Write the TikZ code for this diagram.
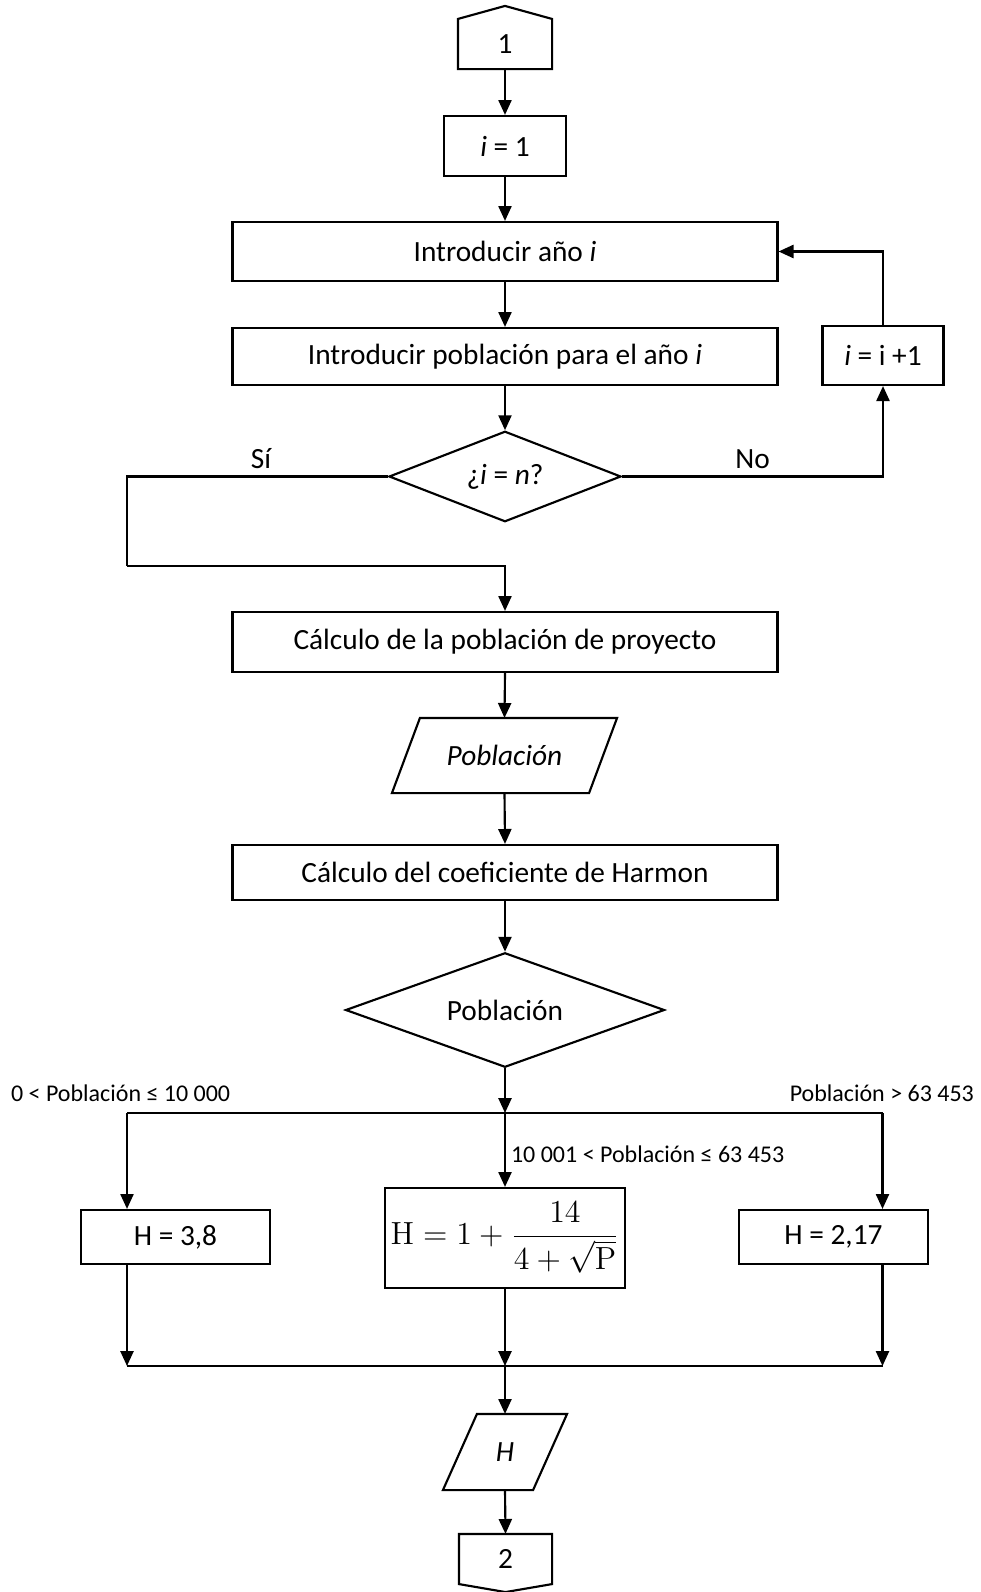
\documentclass[tikz,border=0pt]{standalone}
\usepackage[no-math]{fontspec}
\setmainfont{Carlito}
\usetikzlibrary{arrows.meta,shapes.geometric,calc}
\def\px{0.375pt}
\begin{document}
\begin{tikzpicture}[x=0.375pt,y=0.375pt,
  line width=0.8pt,
  every node/.style={font=\fontsize{11}{13}\selectfont, inner sep=0pt},
  proc/.style={draw, rectangle, minimum width=#1*\px},
  proc/.default=545,
  plain/.style={rectangle},
  dec/.style={draw, diamond},
  lbl/.style={font=\fontsize{9}{11}\selectfont},
  arr/.style={-{Triangle[length=5.6pt,width=4.9pt]}},
  ln/.style={-}
]
\useasboundingbox (0,0) rectangle (981,-1592);

% connector 1
\node[plain, minimum width=92*\px, minimum height=48*\px] (c1) at (505,-44) {1};
\draw (c1.south west) -- (c1.north west) -- ($(c1.north)+(0,13)$) -- (c1.north east) -- (c1.south east) -- cycle;

\node[proc=122, minimum height=60*\px] (i1) at (505,-146) {\textit{i} = 1};
\node[proc, minimum height=59*\px] (ano) at (505,-251.5) {Introducir año \textit{i}};
\node[proc, minimum height=57*\px] (pobi) at (505,-356.5) {Introducir población para el año \textit{i}};
\node[proc=121, minimum height=59*\px] (inc) at (883,-355.5) {\textit{i} = i +1};
\node[dec, aspect=2.56, minimum width=232*\px, minimum height=90.5*\px] (d1) at (505,-476.5) {¿\textit{i} = \textit{n}?};
\node[proc, minimum height=60*\px] (calc) at (505,-642) {Cálculo de la población de proyecto};

% parallelogram Poblacion
\node[plain, minimum width=195*\px, minimum height=73*\px] (pob) at (504.5,-755.5) {\textit{Población}};
\draw ($(pob.north west)+(14,0)$) -- ($(pob.north east)+(14,0)$) -- ($(pob.south east)+(-14,0)$) -- ($(pob.south west)+(-14,0)$) -- cycle;

\node[proc, minimum height=55*\px] (harm) at (505,-872.5) {Cálculo del coeficiente de Harmon};
\node[dec, aspect=2.79, minimum width=319*\px, minimum height=114.5*\px] (d2) at (505,-1010) {Población};

\node[proc=189, minimum height=54*\px] (h38) at (175.5,-1237) {H = 3,8};
\node[proc=240, minimum height=100*\px, font=\fontsize{12}{14}\selectfont] (hf) at (505,-1238) {$\mathrm{H} = 1 + \displaystyle\frac{14}{4+\sqrt{\mathrm{P}}}$};
\node[proc=189, minimum height=54*\px] (h217) at (833.5,-1237) {H = 2,17};

% parallelogram H
\node[plain, minimum width=88*\px, minimum height=74*\px] (hpar) at (505,-1452) {\textit{H}};
\draw ($(hpar.north west)+(17,0)$) -- ($(hpar.north east)+(17,0)$) -- ($(hpar.south east)+(-17,0)$) -- ($(hpar.south west)+(-17,0)$) -- cycle;

% connector 2
\node[plain, minimum width=91*\px, minimum height=48*\px] (c2) at (505.5,-1559) {2};
\draw (c2.north west) -- (c2.south west) -- ($(c2.south)+(0,-8)$) -- (c2.south east) -- (c2.north east) -- cycle;

% labels
\node at (261,-459) (lsi) {Sí};
\node at (752.5,-459) (lno) {No};
\node[lbl, anchor=west] (l1) at (10,-1093) {0 < Población ≤ 10 000};
\node[lbl, anchor=east] (l3) at (975,-1093) {Población > 63 453};
\node[lbl, anchor=west] (l2) at (510,-1154) {10 001 < Población ≤ 63 453};

% coordinates
\coordinate (s2) at (127,-566);
\coordinate (j1) at (505,-1113);
\coordinate (jl) at (127,-1113);
\coordinate (jr) at (882.5,-1113);
\coordinate (bl) at (127,-1366);
\coordinate (bc) at (505,-1366);
\coordinate (br) at (882.5,-1366);

% connectors
\draw[arr] (c1.south) -- (i1.north);
\draw[arr] (i1.south) -- (ano.north);
\draw[arr] (ano.south) -- (pobi.north);
\draw[arr] (pobi.south) -- (d1.north);
\draw[arr] (d1.east) -| (inc.south);
\draw[arr] (inc.north) |- (ano.east);
\draw[ln] (d1.west) -| (s2);
\draw[arr] (s2) -| (calc.north);
\draw[arr] (calc.south) -- (pob.north);
\draw[arr] (pob.south) -- (harm.north);
\draw[arr] (harm.south) -- (d2.north);
\draw[arr] (d2.south) -- (j1);
\draw[ln] (jl) -- (jr);
\draw[arr] (jl) -- (jl |- h38.north);
\draw[arr] (j1) -- (hf.north);
\draw[arr] (jr) -- (jr |- h217.north);
\draw[arr] (jl |- h38.south) -- (bl);
\draw[arr] (hf.south) -- (bc);
\draw[arr] (jr |- h217.south) -- (br);
\draw[ln] (bl) -- (br);
\draw[arr] (bc) -- (hpar.north);
\draw[arr] (hpar.south) -- (c2.north);
\end{tikzpicture}
\end{document}
